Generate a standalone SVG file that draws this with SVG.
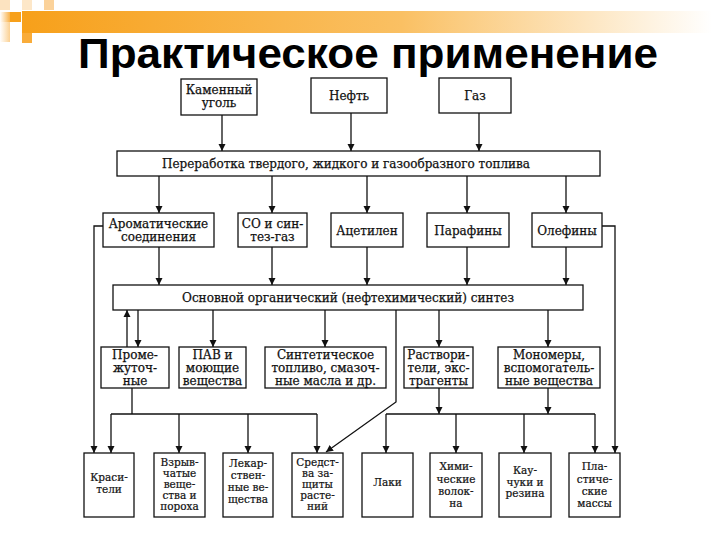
<svg xmlns="http://www.w3.org/2000/svg" width="720" height="540" viewBox="0 0 720 540">
<defs>
<linearGradient id="bar" x1="0" y1="0" x2="1" y2="0">
<stop offset="0" stop-color="#F7A01A"/>
<stop offset="0.55" stop-color="#FAC063"/>
<stop offset="1" stop-color="#FFFFFF"/>
</linearGradient>
<linearGradient id="side" x1="0" y1="0" x2="1" y2="0">
<stop offset="0" stop-color="#FFFFFF"/>
<stop offset="1" stop-color="#F9B24A"/>
</linearGradient>
<marker id="ah" viewBox="0 0 10 10" refX="10" refY="5" markerWidth="7" markerHeight="9" markerUnits="userSpaceOnUse" orient="auto">
<path d="M0,0 L10,5 L0,10 z" fill="#111"/>
</marker>
</defs>
<style>
.b{fill:#fff;stroke:#111;stroke-width:1.3}
.t{font-family:"DejaVu Serif","Liberation Serif",serif;font-size:12px;fill:#111;stroke:#111;stroke-width:0.25;text-anchor:middle}
.s{font-family:"DejaVu Serif","Liberation Serif",serif;font-size:10.5px;fill:#111;stroke:#111;stroke-width:0.2;text-anchor:middle}
.c{fill:none;stroke:#111;stroke-width:1.3}
.a{fill:none;stroke:#111;stroke-width:1.3;marker-end:url(#ah)}
.title{font-family:"Liberation Sans",Arial,sans-serif;font-weight:bold;font-size:42px;fill:#000;text-anchor:middle}
</style>
<rect width="720" height="540" fill="#fff"/>
<g id="header">
<rect x="22" y="11" width="690" height="22" fill="url(#bar)"/>
<rect x="0" y="0" width="10" height="10" fill="#FCE3C0"/>
<rect x="22" y="0" width="10" height="10" fill="#FDE7C8"/>
<rect x="44" y="0" width="10" height="10" fill="#FBD29A"/>
<rect x="10" y="12" width="11" height="10" fill="#F7A01A"/>
<rect x="0" y="12" width="10" height="10" fill="url(#side)"/>
<rect x="0" y="22" width="10" height="20" fill="url(#side)" opacity="0.6"/>
<rect x="22" y="33" width="10" height="10" fill="#F9AC3A"/>
<text class="title" x="368" y="68" textLength="580" lengthAdjust="spacingAndGlyphs">Практическое применение</text>
</g>
<g id="connectors">
<line class="a" x1="222" y1="115" x2="222" y2="151"/>
<line class="a" x1="351" y1="113" x2="351" y2="151"/>
<line class="a" x1="479" y1="113" x2="479" y2="151"/>
<line class="a" x1="159" y1="176" x2="159" y2="213"/>
<line class="a" x1="272" y1="176" x2="272" y2="213"/>
<line class="a" x1="367" y1="176" x2="367" y2="213"/>
<line class="a" x1="467" y1="176" x2="467" y2="213"/>
<line class="a" x1="566" y1="176" x2="566" y2="213"/>
<line class="a" x1="159" y1="247" x2="159" y2="285"/>
<line class="a" x1="272" y1="247" x2="272" y2="285"/>
<line class="a" x1="367" y1="247" x2="367" y2="285"/>
<line class="a" x1="467" y1="247" x2="467" y2="285"/>
<line class="a" x1="566" y1="247" x2="566" y2="285"/>
<polyline class="a" points="103,226 94,226 94,453"/>
<polyline class="a" points="602,226 615,226 615,453"/>
<line class="a" x1="127" y1="347" x2="127" y2="310"/>
<line class="a" x1="138" y1="310" x2="138" y2="347"/>
<line class="a" x1="213" y1="310" x2="213" y2="347"/>
<line class="a" x1="325" y1="310" x2="325" y2="347"/>
<line class="a" x1="439" y1="310" x2="439" y2="347"/>
<line class="a" x1="548" y1="310" x2="548" y2="347"/>
<polyline class="a" points="396,310 396,402 326,452"/>
<line class="c" x1="132" y1="388" x2="132" y2="414"/>
<line class="c" x1="111" y1="414" x2="317" y2="414"/>
<line class="a" x1="111" y1="414" x2="111" y2="453"/>
<line class="a" x1="179" y1="414" x2="179" y2="453"/>
<line class="a" x1="248" y1="414" x2="248" y2="453"/>
<line class="a" x1="317" y1="414" x2="317" y2="453"/>
<line class="a" x1="439" y1="388" x2="439" y2="414"/>
<line class="a" x1="548" y1="388" x2="548" y2="414"/>
<line class="c" x1="386" y1="414" x2="595" y2="414"/>
<line class="a" x1="386" y1="414" x2="386" y2="453"/>
<line class="a" x1="456" y1="414" x2="456" y2="453"/>
<line class="a" x1="524" y1="414" x2="524" y2="453"/>
<line class="a" x1="595" y1="414" x2="595" y2="453"/>
</g>
<g id="n1"><rect class="b" x="181" y="79" width="76" height="36"/><text class="t" x="219" y="94">Каменный</text><text class="t" x="219" y="107">уголь</text></g>
<g id="n2"><rect class="b" x="311" y="78" width="76" height="35"/><text class="t" x="349" y="100">Нефть</text></g>
<g id="n3"><rect class="b" x="439" y="78" width="72" height="35"/><text class="t" x="475" y="100">Газ</text></g>
<g id="n4"><rect class="b" x="117" y="151" width="483" height="25"/><text class="t" x="346" y="168" textLength="368" lengthAdjust="spacingAndGlyphs">Переработка твердого, жидкого и газообразного топлива</text></g>
<g id="n5"><rect class="b" x="103" y="213" width="111" height="34"/><text class="t" x="158.5" y="228">Ароматические</text><text class="t" x="158.5" y="241">соединения</text></g>
<g id="n6"><rect class="b" x="238" y="213" width="69" height="34"/><text class="t" x="272.5" y="228">СО и син-</text><text class="t" x="272.5" y="241">тез-газ</text></g>
<g id="n7"><rect class="b" x="331" y="213" width="72" height="34"/><text class="t" x="367" y="235">Ацетилен</text></g>
<g id="n8"><rect class="b" x="427" y="213" width="82" height="34"/><text class="t" x="468" y="235">Парафины</text></g>
<g id="n9"><rect class="b" x="532" y="213" width="70" height="34"/><text class="t" x="567" y="235">Олефины</text></g>
<g id="n10"><rect class="b" x="113" y="285" width="470" height="25"/><text class="t" x="348" y="302" textLength="332" lengthAdjust="spacingAndGlyphs">Основной органический (нефтехимический) синтез</text></g>
<g id="n11"><rect class="b" x="101" y="347" width="68" height="41"/><text class="t" x="135" y="359">Проме-</text><text class="t" x="135" y="372">жуточ-</text><text class="t" x="135" y="384.5">ные</text></g>
<g id="n12"><rect class="b" x="179" y="347" width="67" height="41"/><text class="t" x="212.5" y="359">ПАВ и</text><text class="t" x="212.5" y="372">моющие</text><text class="t" x="212.5" y="384.5">вещества</text></g>
<g id="n13"><rect class="b" x="265" y="347" width="121" height="41"/><text class="t" x="325.5" y="359">Синтетическое</text><text class="t" x="325.5" y="372">топливо, смазоч-</text><text class="t" x="325.5" y="384.5">ные масла и др.</text></g>
<g id="n14"><rect class="b" x="404" y="347" width="69" height="41"/><text class="t" x="438.5" y="359">Раствори-</text><text class="t" x="438.5" y="372">тели, экс-</text><text class="t" x="438.5" y="384.5">трагенты</text></g>
<g id="n15"><rect class="b" x="498" y="347" width="102" height="41"/><text class="t" x="549" y="359">Мономеры,</text><text class="t" x="549" y="372">вспомогатель-</text><text class="t" x="549" y="384.5">ные вещества</text></g>
<g id="n16"><rect class="b" x="84" y="453" width="50" height="64"/><text class="s" x="109" y="481">Краси-</text><text class="s" x="109" y="493">тели</text></g>
<g id="n17"><rect class="b" x="154" y="453" width="51" height="64"/><text class="s" x="179.5" y="466">Взрыв-</text><text class="s" x="179.5" y="477">чатые</text><text class="s" x="179.5" y="488">веще-</text><text class="s" x="179.5" y="499">ства и</text><text class="s" x="179.5" y="510">пороха</text></g>
<g id="n18"><rect class="b" x="223" y="453" width="50" height="64"/><text class="s" x="248" y="467">Лекар-</text><text class="s" x="248" y="479">ствен-</text><text class="s" x="248" y="491">ные ве-</text><text class="s" x="248" y="503">щества</text></g>
<g id="n19"><rect class="b" x="292" y="453" width="51" height="64"/><text class="s" x="317.5" y="466">Средст-</text><text class="s" x="317.5" y="477">ва за-</text><text class="s" x="317.5" y="488">щиты</text><text class="s" x="317.5" y="499">расте-</text><text class="s" x="317.5" y="510">ний</text></g>
<g id="n20"><rect class="b" x="362" y="453" width="51" height="64"/><text class="s" x="387.5" y="486">Лаки</text></g>
<g id="n21"><rect class="b" x="430" y="453" width="52" height="64"/><text class="s" x="456" y="470">Хими-</text><text class="s" x="456" y="482.5">ческие</text><text class="s" x="456" y="495">волок-</text><text class="s" x="456" y="507">на</text></g>
<g id="n22"><rect class="b" x="499" y="453" width="52" height="64"/><text class="s" x="525" y="474">Кау-</text><text class="s" x="525" y="485.5">чуки и</text><text class="s" x="525" y="497">резина</text></g>
<g id="n23"><rect class="b" x="569" y="453" width="51" height="64"/><text class="s" x="594.5" y="470">Пла-</text><text class="s" x="594.5" y="482.5">стиче-</text><text class="s" x="594.5" y="495">ские</text><text class="s" x="594.5" y="507">массы</text></g>
</svg>
